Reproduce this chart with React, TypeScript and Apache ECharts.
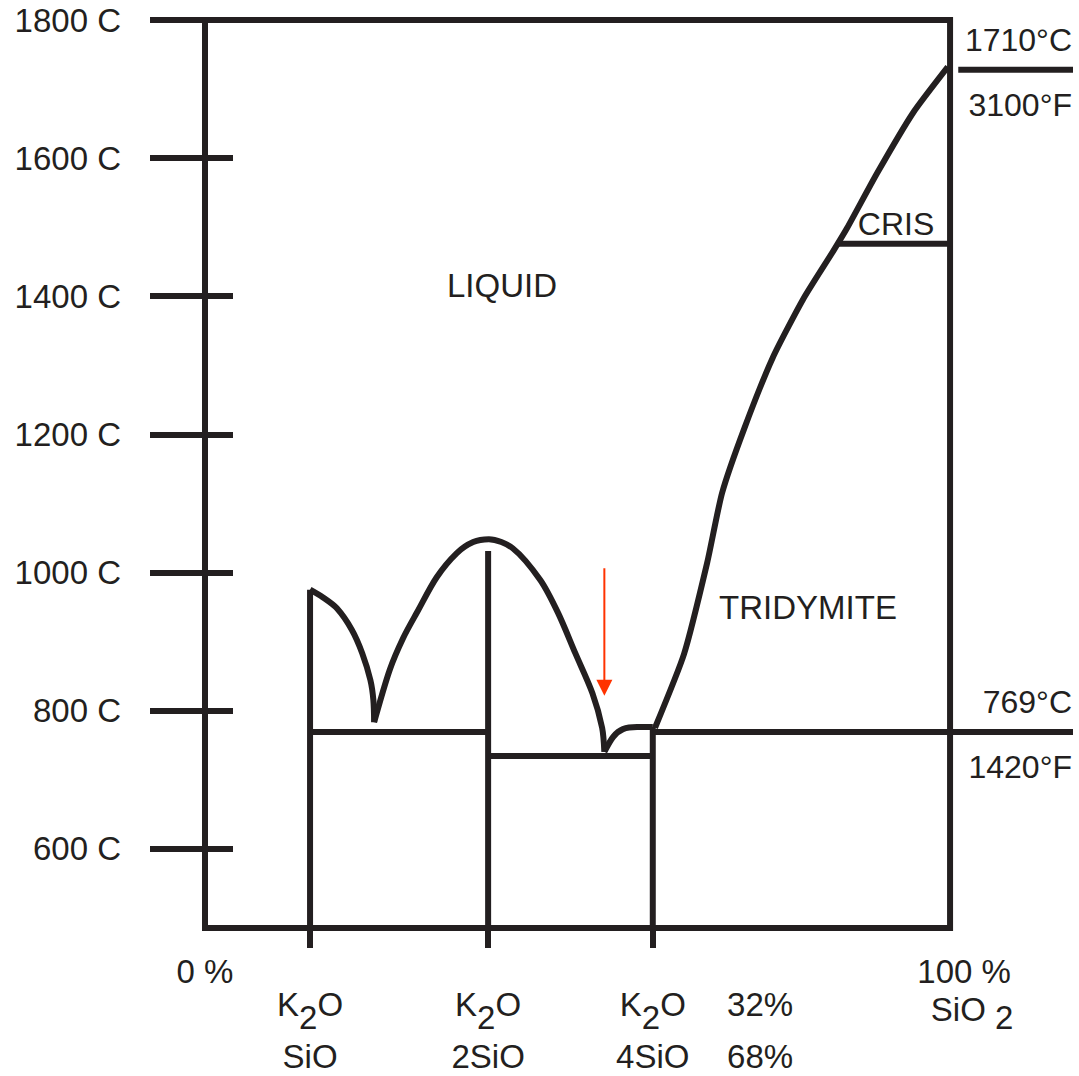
import React, { useEffect, useRef } from 'react';
import * as echarts from 'echarts';

const INK = '#231f20';
const RED = '#ff3300';
const FONT = '"Liberation Sans", Arial, Helvetica, sans-serif';

// ---- axes ----
const T_MIN = 485;
const T_MAX = 1800;
const X_MIN = 0;
const X_MAX = 116.5; // room on the right for the temperature annotations
const tempTicks = [600, 800, 1000, 1200, 1400, 1600, 1800];
const tempInnerTicks = [600, 800, 1000, 1200, 1400, 1600];
// composition (% SiO2 axis position) of K2O·SiO2, K2O·2SiO2, K2O·4SiO2
const compoundPositions = [14.1, 38.0, 60.1];
const compoundLabelPositions = [14.1, 38.0, 60.1, 74.5];
const compoundLabels = [
  '{a|K}{sub|2}{a|O}\n{b|SiO}',
  '{a|K}{sub|2}{a|O}\n{b|2SiO}',
  '{a|K}{sub|2}{a|O}\n{b|4SiO}',
  '{a|32%}\n{b|68%}',
];
const endPositions = [0, 100];
const endLabels = ['{p0|0 %}', '{p|100 %}\n{q|SiO }{s|2}'];

// ---- diagram frame & phase boundaries [%, °C] ----
const frame = [[50, 485], [0, 485], [0, 1800], [100, 1800], [100, 485], [50, 485]];
const compound1Line = [[14.1, 975], [14.1, 485]];
const compound2Line = [[38.0, 1031], [38.0, 485]];
const compound3Line = [[60.1, 776], [60.1, 485]];
const eutectic1 = [[14.1, 769], [38.0, 769]];
const eutectic2 = [[38.0, 734], [60.1, 734]];
const eutectic3 = [[60.1, 769], [116.5, 769]];
const crisLine = [[85.0, 1476], [100, 1476]];
const marker1710 = [[101.1, 1728], [116.5, 1728]];
const liquidusA = [
  [14.1, 975], [15.8, 964], [17.7, 948], [19.7, 917], [21.1, 883], [22.2, 844], [22.6, 815], [22.7, 783],
];
const liquidusB = [
  [22.7, 783], [24.8, 859], [26.6, 905], [28.5, 943], [31.1, 993], [33.8, 1028], [36.0, 1044], [38.1, 1048],
  [41.3, 1035], [45.0, 989], [47.4, 941], [49.7, 883], [52.0, 825], [53.3, 775], [53.6, 740],
];
const liquidusC = [[53.6, 740], [54.8, 762], [56.1, 773], [58.0, 776], [60.1, 776]];
const liquidusSiO2 = [
  [60.4, 775], [64.3, 882], [67.4, 1014], [69.4, 1115], [72.4, 1209], [76.2, 1311], [80.3, 1396],
  [84.3, 1465], [86.2, 1499], [90.2, 1578], [95.0, 1665], [99.7, 1732],
];
const arrowX = 53.6;
const arrowFrom = 1006;
const arrowTo = 833;

function lineSeries(data: number[][], smooth: number | boolean = false) {
  return {
    type: 'line',
    data,
    symbol: 'none',
    clip: false,
    silent: true,
    smooth,
    lineStyle: { color: INK, width: 6, join: 'miter' },
  };
}

function textEl(text: string, x: number, y: number, align: string, size: number) {
  return {
    type: 'text',
    x,
    y,
    silent: true,
    style: { text, fontSize: size, fontFamily: FONT, fill: INK, align, verticalAlign: 'middle' },
  };
}

function pick(values: number[], labels: string[], v: number) {
  let best = 0;
  for (let i = 1; i < values.length; i++) {
    if (Math.abs(values[i] - v) < Math.abs(values[best] - v)) best = i;
  }
  return labels[best];
}

export default function App() {
  const ref = useRef<HTMLDivElement>(null);
  useEffect(() => {
    document.body.style.margin = '0';
    const chart = echarts.init(ref.current!, null, { renderer: 'svg' });
    const baseLabel = { fontSize: 33, fontFamily: FONT, color: INK };
    chart.setOption({
      animation: false,
      grid: {
        left: 205,
        right: 6,
        top: 20,
        bottom: 148,
        show: false,
        containLabel: false,
        outerBoundsMode: 'none',
      },
      xAxis: [
        {
          type: 'value',
          min: X_MIN,
          max: X_MAX,
          position: 'bottom',
          axisLine: { show: false },
          splitLine: { show: false },
          axisTick: {
            show: true,
            length: 20,
            customValues: compoundPositions,
            lineStyle: { color: INK, width: 6 },
          },
          axisLabel: {
            ...baseLabel,
            customValues: compoundLabelPositions,
            margin: 38,
            formatter: (v: number) => pick(compoundLabelPositions, compoundLabels, v),
            rich: {
              a: { ...baseLabel, lineHeight: 76, verticalAlign: 'middle' },
              sub: { ...baseLabel, lineHeight: 76, padding: [26, 0, 0, 0], verticalAlign: 'middle' },
              b: { ...baseLabel, lineHeight: 28, verticalAlign: 'middle' },
            },
          },
        },
        {
          type: 'value',
          min: X_MIN,
          max: X_MAX,
          position: 'bottom',
          axisLine: { show: false },
          splitLine: { show: false },
          axisTick: { show: false },
          axisLabel: {
            ...baseLabel,
            customValues: endPositions,
            margin: 24,
            lineHeight: 38,
            formatter: (v: number) => pick(endPositions, endLabels, v),
            rich: {
              p0: { ...baseLabel, lineHeight: 38, verticalAlign: 'middle' },
              p: { ...baseLabel, lineHeight: 38, padding: [0, 0, 0, 28], verticalAlign: 'middle' },
              q: { ...baseLabel, lineHeight: 38, padding: [0, 0, 0, 44], verticalAlign: 'middle' },
              s: { ...baseLabel, lineHeight: 38, padding: [17, 0, 0, 0], verticalAlign: 'middle' },
            },
          },
        },
      ],
      yAxis: [
        {
          type: 'value',
          min: T_MIN,
          max: T_MAX,
          position: 'left',
          axisLine: { show: false },
          splitLine: { show: false },
          axisTick: {
            show: true,
            length: 55,
            customValues: tempTicks,
            lineStyle: { color: INK, width: 6 },
          },
          axisLabel: {
            ...baseLabel,
            customValues: tempTicks,
            margin: 84,
            formatter: (v: number) => `${v} C`,
          },
        },
        {
          type: 'value',
          min: T_MIN,
          max: T_MAX,
          position: 'left',
          axisLine: { show: false },
          splitLine: { show: false },
          axisLabel: { show: false },
          axisTick: {
            show: true,
            inside: true,
            length: 28,
            customValues: tempInnerTicks,
            lineStyle: { color: INK, width: 6 },
          },
        },
      ],
      series: [
        lineSeries(frame),
        lineSeries(compound1Line),
        lineSeries(compound2Line),
        lineSeries(compound3Line),
        lineSeries(eutectic1),
        lineSeries(eutectic2),
        lineSeries(eutectic3),
        lineSeries(crisLine),
        lineSeries(marker1710),
        lineSeries(liquidusA, 0.3),
        lineSeries(liquidusB, 0.3),
        lineSeries(liquidusC, 0.3),
        lineSeries(liquidusSiO2, 0.2),
        {
          type: 'line',
          silent: true,
          clip: false,
          symbol: 'triangle',
          symbolSize: [16, 16],
          symbolRotate: 180,
          itemStyle: { color: RED },
          lineStyle: { color: RED, width: 2 },
          data: [
            { value: [arrowX, arrowFrom], symbol: 'none' },
            { value: [arrowX, arrowTo] },
          ],
        },
      ],
      graphic: [
        textEl('LIQUID', 502, 285, 'center', 33),
        textEl('TRIDYMITE', 808, 607, 'center', 33),
        textEl('CRIS', 896, 224, 'center', 32),
        textEl('1710°C', 1072, 40, 'right', 32),
        textEl('3100°F', 1072, 105, 'right', 32),
        textEl('769°C', 1072, 702, 'right', 32),
        textEl('1420°F', 1072, 767, 'right', 32),
      ],
    });
    return () => chart.dispose();
  }, []);
  return (
    <div
      ref={ref}
      style={{ position: 'absolute', left: 0, top: 0, width: 1079, height: 1076, background: '#fff' }}
    />
  );
}
